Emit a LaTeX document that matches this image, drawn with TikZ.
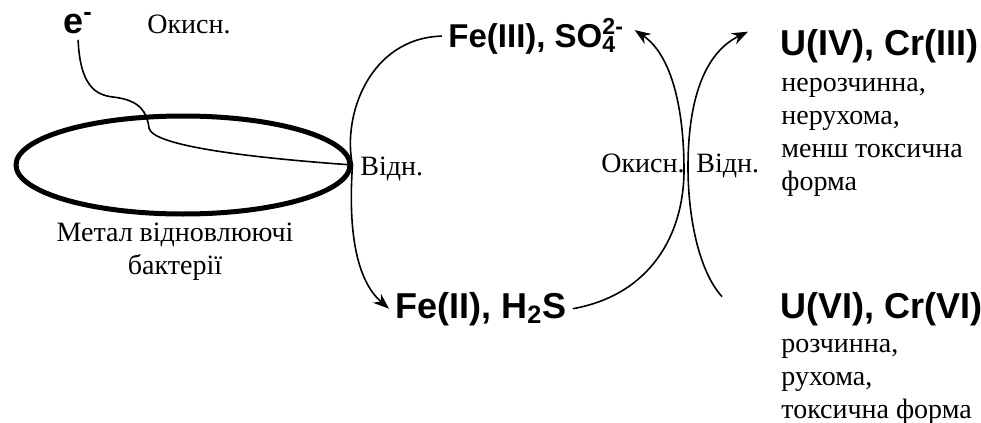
\documentclass[tikz,border=0pt]{standalone}
\usepackage{fontspec}
\setmainfont{Liberation Serif}
\newfontfamily\chemfont{Liberation Sans}
\usetikzlibrary{arrows.meta,positioning,shapes.geometric}
\newcommand{\ionsub}[2]{\rlap{\textsuperscript{#2}}\textsubscript{#1}}
\tikzset{
  species/.style = {font=\chemfont\bfseries\fontsize{18}{20}\selectfont,
                    inner sep=3pt},
  note/.style    = {font=\fontsize{14}{16.5}\selectfont, inner sep=0pt},
  cell/.style    = {ellipse, draw, line width=2.5pt,
                    minimum width=167pt, minimum height=49pt},
  arr/.style     = {-{Stealth[length=8pt,width=6pt]}, line width=0.8pt},
  wire/.style    = {line width=0.8pt},
}
\begin{document}
\begin{tikzpicture}[x=0.5pt, y=-0.5pt]
\useasboundingbox (0,0) rectangle (981,423);

%% -- bacterium and electron ---------------------------------
\node[cell] (cell) at (183,165) {};
\node[species, anchor=base west] (em) at (57,33) {e\textsuperscript{-}};
\node[note, anchor=base west] (ox1) at (147,33) {Окисн.};
\node[note, anchor=base west] (red1) at (360,175) {Відн.};
\node[note, align=center, below=3pt of cell, xshift=-4pt] (bact)
  {Метал відновлюючі\\бактерії};

%% -- iron / sulphur pair ------------------------------------
\node[species, anchor=base west, font=\chemfont\bfseries\fontsize{16.5}{20}\selectfont]
  (fe3) at (442,47) {Fe(III), SO\ionsub{4}{2-}};
\node[species, anchor=base west] (fe2) at (389,318) {Fe(II), H\textsubscript{2}S};

%% -- uranium / chromium pair --------------------------------
\node[species, anchor=base west] (u4) at (774,55) {U(IV), Cr(III)};
\node[species, anchor=base west] (u6) at (774,318) {U(VI), Cr(VI)};
\node[note, align=left, below right=4.5pt and 3.5pt of u4.south west] (u4txt)
  {нерозчинна,\\нерухома,\\менш токсична\\форма};
\node[note, align=left, below right=3.5pt and 3.5pt of u6.south west] (u6txt)
  {розчинна,\\рухома,\\токсична форма};

\node[note, anchor=base west] (ox2) at (601,172) {Окисн.};
\node[note, anchor=base west] (red2) at (696,172) {Відн.};

%% -- connectors ---------------------------------------------
\draw[wire] (em.south) .. controls (80,85) and (95,95) .. (113,97)
  .. controls (140,100) and (147,112) .. (149,128)
  .. controls (152,145) and (240,157) .. (cell.east);
\draw[arr] (fe3.west) .. controls (370,38) and (342,115) .. (cell.east)
  .. controls (348,230) and (356,280) .. (fe2.west);
\draw[arr] (fe2.east) .. controls (650,295) and (684,235) .. (684,170)
  .. controls (684,110) and (672,55) .. ([shift={(12,-6)}]fe3.east);
\draw[arr] ([shift={(-52,-12)}]u6.west) .. controls (698,270) and (688,215) .. (688,167)
  .. controls (688,110) and (700,55) .. ([shift={(-26,-14)}]u4.west);

\end{tikzpicture}
\end{document}
